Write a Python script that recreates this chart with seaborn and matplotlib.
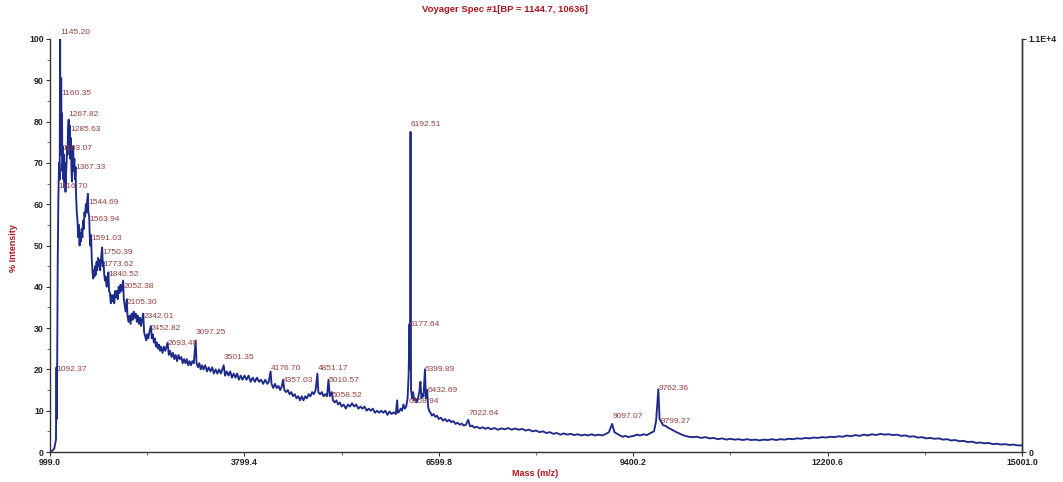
import matplotlib
matplotlib.use("Agg")
import matplotlib.pyplot as plt
import seaborn as sns
import pandas as pd
from matplotlib.ticker import FixedLocator, MultipleLocator

# ---------------- data ----------------
mass = [
    999, 1030, 1060, 1085, 1092.37, 1098, 1110, 1120, 1130, 1138, 1145.2, 1150, 1155, 1160.35, 1166,
    1172, 1178, 1185, 1192, 1200, 1208, 1215, 1222, 1230, 1238, 1245, 1252, 1258, 1267.82, 1275,
    1285.63, 1292, 1300, 1308, 1315.7, 1322, 1333.07, 1340, 1350, 1358, 1367.33, 1375, 1385, 1395,
    1405, 1415, 1425, 1435, 1445, 1455, 1465, 1475, 1485, 1495, 1505, 1515, 1525, 1535, 1544.69,
    1552, 1563.94, 1570, 1580, 1591.03, 1600, 1610, 1620, 1630, 1640, 1650, 1660, 1670, 1680, 1690,
    1700, 1713.62, 1722, 1735, 1750.39, 1760, 1770, 1780, 1790, 1800, 1815, 1828, 1840.52, 1850,
    1862, 1875, 1888, 1900, 1912, 1925, 1938, 1950, 1962, 1975, 1988, 2000, 2015, 2030, 2052.38,
    2062, 2075, 2090, 2105.3, 2115, 2130, 2145, 2160, 2175, 2190, 2205, 2220, 2235, 2250, 2265,
    2280, 2295, 2310, 2325, 2342.01, 2355, 2370, 2385, 2400, 2415, 2430, 2452.82, 2465, 2480, 2495,
    2510, 2525, 2540, 2555, 2570, 2585, 2600, 2620, 2640, 2660, 2693.48, 2710, 2730, 2750, 2770,
    2790, 2810, 2830, 2850, 2870, 2890, 2910, 2930, 2950, 2970, 2990, 3010, 3030, 3050, 3070,
    3097.25, 3110, 3130, 3150, 3170, 3190, 3210, 3235, 3260, 3285, 3310, 3335, 3360, 3385, 3410,
    3435, 3460, 3501.35, 3520, 3545, 3570, 3595, 3620, 3645, 3670, 3695, 3720, 3745, 3770, 3800,
    3830, 3860, 3890, 3920, 3950, 3980, 4010, 4040, 4070, 4100, 4130, 4150, 4176.7, 4190, 4215,
    4240, 4265, 4290, 4315, 4340, 4357.03, 4375, 4400, 4425, 4450, 4475, 4500, 4525, 4550, 4575,
    4600, 4625, 4650, 4675, 4700, 4725, 4750, 4775, 4800, 4825, 4851.17, 4865, 4890, 4915, 4940,
    4965, 4990, 5010.57, 5030, 5058.52, 5075, 5100, 5125, 5150, 5175, 5200, 5230, 5260, 5290, 5320,
    5350, 5380, 5410, 5440, 5470, 5500, 5530, 5560, 5590, 5620, 5650, 5680, 5710, 5740, 5770,
    5800, 5830, 5860, 5890, 5920, 5950, 5980, 6000, 6010, 6030, 6050, 6070, 6090, 6110, 6130,
    6150, 6165, 6177.64, 6185, 6192.51, 6200, 6215, 6230, 6245, 6263.18, 6280, 6300, 6318.44, 6335, 6350,
    6365, 6380, 6399.89, 6415, 6432.69, 6445, 6460, 6480, 6500, 6525, 6550, 6575, 6600, 6630, 6660,
    6690, 6720, 6750, 6780, 6810, 6840, 6870, 6900, 6930, 6960, 6990, 7022.64, 7050, 7080, 7110,
    7150, 7190, 7230, 7270, 7310, 7350, 7400, 7450, 7500, 7550, 7600, 7650, 7700, 7750, 7800,
    7850, 7900, 7950, 8000, 8050, 8100, 8150, 8200, 8250, 8300, 8350, 8400, 8450, 8500, 8550,
    8600, 8650, 8700, 8750, 8800, 8850, 8900, 8950, 9000, 9050, 9097.07, 9130, 9170, 9210, 9250,
    9290, 9330, 9370, 9410, 9450, 9500, 9550, 9600, 9650, 9700, 9730, 9762.36, 9780, 9799.27, 9830,
    9870, 9910, 9950, 10000, 10050, 10100, 10150, 10200, 10260, 10320, 10380, 10440, 10500, 10560, 10620,
    10680, 10740, 10800, 10860, 10920, 10980, 11040, 11100, 11160, 11220, 11280, 11340, 11400, 11460, 11520,
    11580, 11640, 11700, 11760, 11820, 11880, 11940, 12000, 12060, 12120, 12180, 12240, 12300, 12360, 12420,
    12480, 12540, 12600, 12660, 12720, 12780, 12840, 12900, 12960, 13020, 13080, 13140, 13200, 13260, 13320,
    13380, 13440, 13500, 13560, 13620, 13680, 13740, 13800, 13860, 13920, 13980, 14040, 14100, 14160, 14220,
    14280, 14340, 14400, 14460, 14520, 14580, 14640, 14700, 14760, 14820, 14880, 14940, 15001,
]
intensity = [
    0.0, 0.3, 0.8, 3, 20.5, 8, 45, 62, 70, 66, 100, 72, 80, 90.5, 74,
    82, 68, 74, 66, 72, 64, 70, 63, 67, 70, 74, 72, 78, 80.5, 74,
    79, 71, 76, 68, 65.5, 70, 74, 68, 71, 66, 69, 62, 58, 56,
    52, 55, 50, 53, 51, 54, 52, 56, 54, 58, 57, 60, 58, 61, 62.5,
    58, 57, 53, 50, 52.5, 47, 44, 42, 44, 42.5, 45, 43, 46, 44, 47,
    45, 46.5, 44, 47, 49.5, 45, 46, 43, 41.5, 42.5, 40, 41.5, 43.5, 39,
    38.5, 36, 38, 36.5, 38, 36, 39, 37.5, 39, 37, 40, 38.5, 40.5, 39, 41.5,
    37, 35.5, 34, 37, 33, 31.5, 33, 31, 33.5, 32, 34, 32.5, 33.5, 31.5, 33,
    31, 32.5, 30.5, 32, 33.5, 29, 28, 27, 28.5, 27.5, 29, 30.5, 27.5, 28.5, 26.5,
    27.5, 25.5, 26.5, 25, 26, 24.5, 25.5, 24, 25.5, 24.5, 26.5, 23.5, 24.5, 23, 24,
    22.5, 23.5, 22, 23.5, 22.5, 23, 21.5, 22.5, 21.5, 22.5, 21, 22, 21, 22, 21.5,
    27, 21.5, 20.5, 21.5, 20, 21, 20, 21, 19.5, 20.5, 19.5, 20.5, 19, 20, 19,
    20, 19, 21, 18.5, 19.5, 18.5, 19.5, 18, 19, 18, 19, 17.5, 18.5, 17.5, 18.5,
    17.5, 18.5, 17, 18, 17, 18, 17, 17.5, 16.5, 17.5, 16.5, 17, 19.5, 16.5, 15.5,
    16.5, 15.5, 16, 15, 16, 17.5, 15, 14.5, 15, 14, 14.5, 13.5, 14, 13, 13.5,
    12.5, 13.5, 12.5, 13.5, 13, 14, 13.5, 14.5, 14, 15, 19, 14.5, 14, 14.5, 13.5,
    14, 13.5, 17.5, 13.5, 14.5, 12.5, 12, 12.5, 11.5, 12, 11, 11.5, 10.5, 11.5, 11,
    11.8, 11, 11.5, 10.5, 11, 10.5, 11, 10, 10.5, 10, 10.5, 9.5, 10, 9.5, 10,
    9.5, 10, 9, 9.8, 9.2, 9.6, 9.2, 12.5, 9.5, 9.8, 10.5, 10, 11.5, 10.5, 11,
    13, 18.5, 31, 20, 77.5, 15, 13, 14.5, 12.5, 13, 12, 13, 14.5, 17, 13,
    14, 13.5, 20, 13, 15, 11, 10, 9.5, 8.8, 9.2, 8.5, 8.8, 8, 8.3, 7.6,
    8, 7.4, 7.8, 7.2, 7.5, 6.8, 7.1, 6.6, 6.9, 6.4, 6.6, 7.8, 6.2, 6.4, 5.9,
    6.1, 5.7, 6.0, 5.6, 5.9, 5.5, 5.8, 5.4, 5.7, 5.5, 5.8, 5.4, 5.7, 5.4, 5.6,
    5.2, 5.4, 5.0, 5.2, 4.8, 5.0, 4.6, 4.8, 4.4, 4.6, 4.2, 4.5, 4.2, 4.4, 4.1,
    4.3, 4.0, 4.2, 4.0, 4.3, 4.0, 4.2, 4.0, 4.3, 4.8, 6.8, 4.8, 4.4, 4.0, 3.7,
    3.9, 3.6, 3.8, 3.9, 4.2, 4.0, 4.3, 4.1, 4.6, 5.0, 7.5, 15.2, 8, 7.4, 6.5,
    6.3, 5.8, 5.5, 5.0, 4.6, 4.2, 3.9, 3.7, 3.6, 3.7, 3.4, 3.6, 3.3, 3.4, 3.1,
    3.3, 3.0, 3.2, 3.0, 3.1, 2.9, 3.1, 2.9, 3.0, 2.8, 3.0, 2.9, 3.1, 2.9, 3.1,
    3.0, 3.2, 3.1, 3.3, 3.2, 3.4, 3.3, 3.5, 3.4, 3.6, 3.5, 3.7, 3.6, 3.8, 3.7,
    4.0, 3.8, 4.1, 3.9, 4.2, 4.0, 4.3, 4.1, 4.4, 4.2, 4.3, 4.1, 4.2, 3.9, 4.0,
    3.7, 3.8, 3.5, 3.6, 3.3, 3.4, 3.2, 3.3, 3.0, 3.1, 2.8, 2.9, 2.6, 2.7, 2.4,
    2.5, 2.2, 2.3, 2.1, 2.2, 1.9, 2.0, 1.8, 1.9, 1.7, 1.8, 1.6, 1.6,
]

peak_labels = [
    "1092.37", "1145.20", "1160.35", "1267.82", "1285.63", "1183.07", "1367.33", "1116.70",
    "1544.69", "1563.94", "1591.03", "1750.39", "1773.62", "1840.52", "2052.38", "2105.30",
    "2342.01", "2452.82", "2693.48", "3097.25", "3501.35", "4176.70", "4357.03", "4851.17",
    "5010.57", "5058.52", "6192.51", "6177.64", "6399.89", "6432.69", "6158.94", "7022.64",
    "9097.07", "9762.36", "9799.27",
]
peak_label_mass = [
    1092.37, 1145.20, 1160.35, 1267.82, 1285.63, 1183.07, 1367.33, 1116.70,
    1544.69, 1563.94, 1591.03, 1750.39, 1773.62, 1840.52, 2052.38, 2105.30,
    2342.01, 2452.82, 2693.48, 3097.25, 3501.35, 4176.70, 4357.03, 4851.17,
    5010.57, 5058.52, 6192.51, 6177.64, 6399.89, 6432.69, 6158.94, 7022.64,
    9097.07, 9762.36, 9799.27,
]
peak_label_level = [
    19.9, 101.5, 86.7, 81.6, 78.0, 73.6, 68.8, 64.4,
    60.5, 56.4, 51.8, 48.4, 45.5, 42.9, 40.0, 36.1,
    32.9, 30.0, 26.2, 29.0, 22.8, 20.3, 17.2, 20.1,
    17.2, 13.8, 79.4, 30.8, 19.9, 15.0, 12.3, 9.4,
    8.7, 15.3, 7.3,
]

x_ticks = [999.0, 3799.4, 6599.8, 9400.2, 12200.6, 15001.0]
x_tick_labels = ["999.0", "3799.4", "6599.8", "9400.2", "12200.6", "15001.0"]
y_ticks = [0, 10, 20, 30, 40, 50, 60, 70, 80, 90, 100]
right_tick_labels = ["0", "1.1E+4"]

title_text = "Voyager Spec #1[BP = 1144.7, 10636]"
x_label = "Mass (m/z)"
y_label = "% Intensity"

# ---------------- drawing ----------------
sns.set_theme(style="ticks")
plt.rcParams["font.family"] = ["Liberation Sans", "DejaVu Sans"]

RED = "#B0141E"
LABEL_RED = "#9A4040"
LINE = "#1E2A8A"

fig = plt.figure(figsize=(10.63, 4.82), dpi=100)
ax = fig.add_axes([50 / 1063, 1 - 452 / 482, (1022 - 50) / 1063, (452 - 39) / 482])

df = pd.DataFrame({"mass": mass, "intensity": intensity})
sns.lineplot(data=df, x="mass", y="intensity", ax=ax, color=LINE, linewidth=1.35,
             estimator=None, sort=False)

ax.set_xlim(999.0, 15001.0)
ax.set_ylim(0, 100)

for txt, mx, lv in zip(peak_labels, peak_label_mass, peak_label_level):
    ax.text(mx, lv, txt, ha="left", va="center", fontsize=6, color=LABEL_RED,
            clip_on=False)

ax.xaxis.set_major_locator(FixedLocator(x_ticks))
ax.set_xticklabels(x_tick_labels, fontsize=6.3, fontweight="bold", color="#222222")
ax.xaxis.set_minor_locator(FixedLocator([(a + b) / 2 for a, b in zip(x_ticks[:-1], x_ticks[1:])]))
ax.yaxis.set_major_locator(FixedLocator(y_ticks))
ax.set_yticklabels([str(v) for v in y_ticks], fontsize=6.3, fontweight="bold", color="#222222")
ax.yaxis.set_minor_locator(MultipleLocator(5))
ax.tick_params(axis="both", which="major", length=3, width=0.8, pad=1.5, color="#333333")
ax.tick_params(axis="both", which="minor", length=2, width=0.6, color="#555555")

ax.set_xlabel("")
ax.set_ylabel("")
for s in ["left", "bottom", "right"]:
    ax.spines[s].set_color("#333333")
    ax.spines[s].set_linewidth(1.0)
ax.spines["top"].set_visible(False)

ax2 = ax.twinx()
ax2.set_ylim(0, 100)
ax2.yaxis.set_major_locator(FixedLocator([0, 100]))
ax2.set_yticklabels(right_tick_labels, fontsize=6.3, fontweight="bold", color="#222222")
ax2.tick_params(axis="y", length=3, width=0.8, pad=2, color="#333333")
for s in ["top", "left", "bottom"]:
    ax2.spines[s].set_visible(False)
ax2.spines["right"].set_color("#333333")
ax2.spines["right"].set_linewidth(1.0)
ax2.grid(False)

fig.text(505 / 1063, 1 - 10 / 482, title_text, ha="center", va="center",
         fontsize=6.8, fontweight="bold", color=RED)
fig.text(535 / 1063, 1 - 473 / 482, x_label, ha="center", va="center",
         fontsize=6.5, fontweight="bold", color=RED)
fig.text(13 / 1063, 1 - 248 / 482, y_label, ha="center", va="center", rotation=90,
         fontsize=6.5, fontweight="bold", color=RED)

fig.savefig("out.png", dpi=100, facecolor="white")
